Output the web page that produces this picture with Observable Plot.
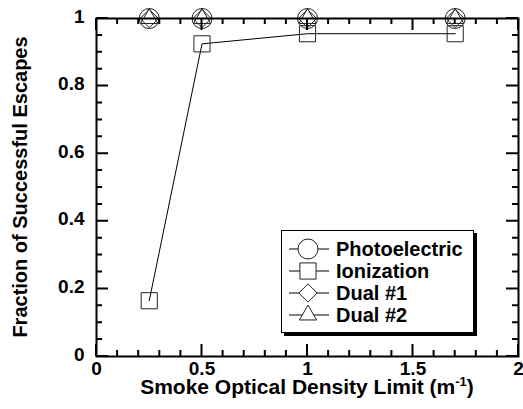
<!DOCTYPE html>
<html><head><meta charset="utf-8">
<script src="https://cdn.jsdelivr.net/npm/d3@7"></script>
<script src="https://cdn.jsdelivr.net/npm/@observablehq/plot@0.6"></script>
<style>
html,body{margin:0;padding:0;background:#fff;}
#chart{position:relative;width:523px;height:409px;font-family:"Liberation Sans",Arial,sans-serif;font-weight:bold;}
#chart svg{display:block;}
.legend{position:absolute;left:281px;top:230px;width:191px;height:101px;border:1px solid #000;background:#fff;box-shadow:3px 3px 0 #000;}
.row{position:absolute;left:7px;height:22px;display:flex;align-items:center;font-size:20px;color:#000;white-space:nowrap;}
.row svg{display:block;}
</style>
</head><body>
<div id="chart"></div>
<script>
// ---- data ----
const densityLimits = [0.25, 0.5, 1, 1.7];
const seriesNames = ["Photoelectric", "Ionization", "Dual #1", "Dual #2"];
const photoelectric = [1, 1, 1, 1];
const ionization = [0.165, 0.925, 0.955, 0.955];
const dual1 = [1, 1, 1, 1];
const dual2 = [1, 1, 1, 1];
const xTickLabels = [0, 0.5, 1, 1.5, 2];
const yTickLabels = [0, 0.2, 0.4, 0.6, 0.8, 1];
const xMinorTicks = [0.1, 0.2, 0.3, 0.4, 0.6, 0.7, 0.8, 0.9, 1.1, 1.2, 1.3, 1.4, 1.6, 1.7, 1.8, 1.9];
const yMinorTicks = [0.05, 0.1, 0.15, 0.25, 0.3, 0.35, 0.45, 0.5, 0.55, 0.65, 0.7, 0.75, 0.85, 0.9, 0.95];
const xLabel = "Smoke Optical Density Limit (m";
const xLabelSup = "-1";
const yLabel = "Fraction of Successful Escapes";

// ---- styling ----
const seriesValues = [photoelectric, ionization, dual1, dual2];
const symbols = ["circle", "square", "diamond2", "triangle2"];
const d3Symbols = [d3.symbolCircle, d3.symbolSquare, d3.symbolDiamond2, d3.symbolTriangle2];
const radii = [10, 9.1, 8.2, 8.2];

const W = 523, H = 409, mL = 96, mR = 5, mT = 18, mB = 53;
const xMin = 0, xMax = 2, yMin = 0, yMax = 1;
const majorLen = 12, minorLen = 6;

const rows = [];
seriesNames.forEach((name, i) => densityLimits.forEach((x, j) => rows.push({series: name, x, y: seriesValues[i][j]})));

const marks = [];
seriesNames.forEach((name, i) => {
  const d = rows.filter(r => r.series === name);
  marks.push(Plot.line(d, {x: "x", y: "y", stroke: "#000", strokeWidth: 1}));
});
seriesNames.forEach((name, i) => {
  const d = rows.filter(r => r.series === name);
  marks.push(Plot.dot(d, {x: "x", y: "y", symbol: () => symbols[i], r: radii[i], stroke: "#222", strokeWidth: 1, fill: "none"}));
});
marks.push(Plot.frame({stroke: "#000", strokeWidth: 2}));
marks.push(Plot.axisX({anchor: "bottom", ticks: xTickLabels, tickSize: 0, tickPadding: 5, tickFormat: d => String(d), label: null}));
marks.push(Plot.axisY({anchor: "left", ticks: yTickLabels, tickSize: 0, tickPadding: 12, tickFormat: d => String(d), label: null, dy: -2}));

const plot = Plot.plot({
  width: W, height: H,
  marginLeft: mL, marginRight: mR, marginTop: mT, marginBottom: mB,
  x: {domain: [xMin, xMax]},
  y: {domain: [yMin, yMax]},
  style: {fontFamily: '"Liberation Sans", Arial, sans-serif', fontWeight: "bold", fontSize: "19px", color: "#000", background: "#fff", overflow: "visible"},
  marks
});

const chart = document.getElementById("chart");
chart.appendChild(plot);

const svg = d3.select(plot);
const sx = plot.scale("x"), sy = plot.scale("y");
const x0 = sx.apply(xMin), x1 = sx.apply(xMax), y0 = sy.apply(yMin), y1 = sy.apply(yMax);

// inward ticks on all four sides, positioned with Plot's scales
const tg = svg.append("g").attr("stroke", "#000").attr("stroke-width", 2).attr("fill", "none");
const tickPath = [];
[[xTickLabels, majorLen], [xMinorTicks, minorLen]].forEach(([vals, len]) => vals.forEach(v => {
  const px = sx.apply(v);
  tickPath.push(`M${px},${y0}V${y0 - len}`, `M${px},${y1}V${y1 + len}`);
}));
[[yTickLabels, majorLen], [yMinorTicks, minorLen]].forEach(([vals, len]) => vals.forEach(v => {
  const py = sy.apply(v);
  tickPath.push(`M${x0},${py}H${x0 + len}`, `M${x1},${py}H${x1 - len}`);
}));
tg.append("path").attr("d", tickPath.join(""));

// axis titles
const cx = (x0 + x1) / 2;
const cy = (y0 + y1) / 2;
const xt = svg.append("text")
  .attr("x", cx).attr("y", 394)
  .attr("text-anchor", "middle")
  .attr("font-size", 21).attr("font-weight", "bold").attr("fill", "#000");
xt.append("tspan").text(xLabel);
xt.append("tspan").attr("dy", -8).attr("font-size", 13).text(xLabelSup);
xt.append("tspan").attr("dy", 8).text(")");
svg.append("text")
  .attr("transform", `translate(27,${cy}) rotate(-90)`)
  .attr("text-anchor", "middle")
  .attr("font-size", 20).attr("font-weight", "bold").attr("fill", "#000")
  .text(yLabel);

// legend
const legend = document.createElement("div");
legend.className = "legend";
const rowCenters = [18, 40, 62, 84];
seriesNames.forEach((name, i) => {
  const row = document.createElement("div");
  row.className = "row";
  row.style.top = (rowCenters[i] - 11) + "px";
  const sw = d3.create("svg").attr("width", 47).attr("height", 22);
  sw.append("line").attr("x1", 0).attr("x2", 40).attr("y1", 11).attr("y2", 11).attr("stroke", "#000").attr("stroke-width", 1);
  sw.append("path")
    .attr("d", d3.symbol(d3Symbols[i], Math.PI * radii[i] * radii[i])())
    .attr("transform", "translate(19,11)")
    .attr("fill", "#fff").attr("stroke", "#222").attr("stroke-width", 1);
  row.appendChild(sw.node());
  const t = document.createElement("span");
  t.textContent = name;
  row.appendChild(t);
  legend.appendChild(row);
});
chart.appendChild(legend);
</script>
</body></html>
